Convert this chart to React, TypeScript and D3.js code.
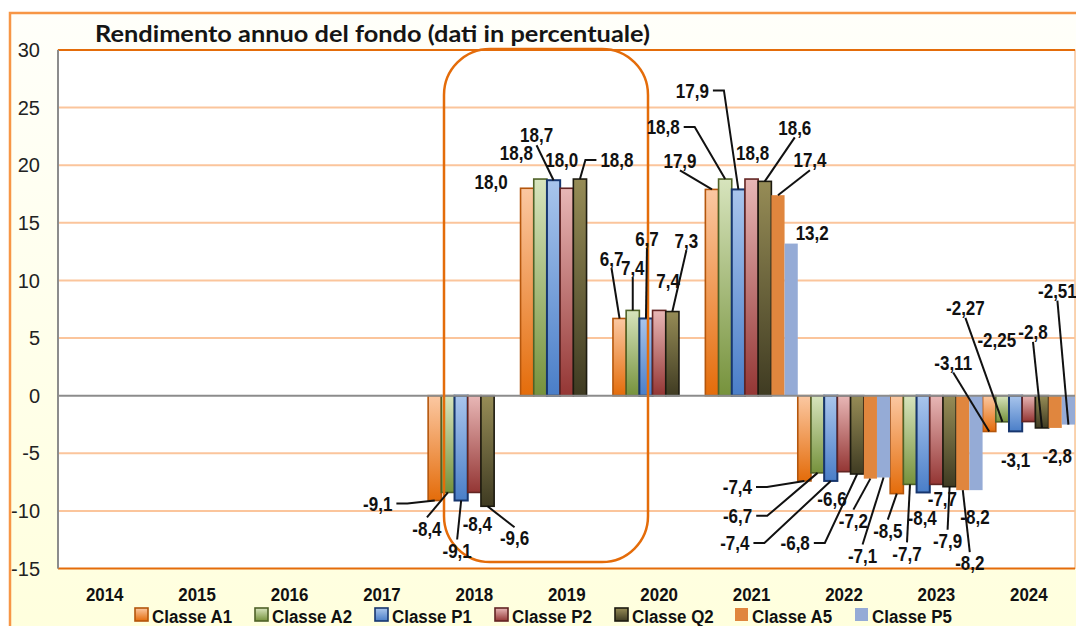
import React from 'react';
import * as d3 from 'd3';

// ---- data ----
const years = ['2014', '2015', '2016', '2017', '2018', '2019', '2020', '2021', '2022', '2023', '2024'];
const seriesNames = ['Classe A1', 'Classe A2', 'Classe P1', 'Classe P2', 'Classe Q2', 'Classe A5', 'Classe P5'];

const classeA1 = [null, null, null, null, -9.1, 18.0, 6.7, 17.9, -7.4, -8.5, -3.11];
const classeA2 = [null, null, null, null, -8.4, 18.8, 7.4, 18.8, -6.7, -7.7, -2.27];
const classeP1 = [null, null, null, null, -9.1, 18.7, 6.7, 17.9, -7.4, -8.4, -3.1];
const classeP2 = [null, null, null, null, -8.4, 18.0, 7.4, 18.8, -6.6, -7.7, -2.25];
const classeQ2 = [null, null, null, null, -9.6, 18.8, 7.3, 18.6, -6.8, -7.9, -2.8];
const classeA5 = [null, null, null, null, null, null, null, 17.4, -7.2, -8.2, -2.8];
const classeP5 = [null, null, null, null, null, null, null, 13.2, -7.1, -8.2, -2.51];

const yTicks = [-15, -10, -5, 0, 5, 10, 15, 20, 25, 30];

const allSeries: (number | null)[][] = [classeA1, classeA2, classeP1, classeP2, classeQ2, classeA5, classeP5];

// ---- styling ----
const W = 1076;
const H = 626;
const plot = { left: 58, right: 1075, top: 50, bottom: 568.5 };

const styles = [
  { top: '#FBC8A2', bottom: '#E46C0A', stroke: '#B4560C' },
  { top: '#D7E4BD', bottom: '#76923C', stroke: '#4F6228' },
  { top: '#A9C5EC', bottom: '#4A7EC8', stroke: '#17366E' },
  { top: '#E8B7B6', bottom: '#943634', stroke: '#632523' },
  { top: '#968C56', bottom: '#3F3B22', stroke: '#1D1B10' },
  { top: '#E0863E', bottom: '#E0863E', stroke: 'none' },
  { top: '#95ABD6', bottom: '#95ABD6', stroke: 'none' },
];

// label placement: offset from bar end (px) and leader kind ('h' side elbow, 'v' top/bottom, '' none)
const labelLayout: Record<string, [number, number, string][]> = {
  '2018': [[-57, 3, 'h'], [-21, 36, 'v'], [-4, 50, 'v'], [3, 31, ''], [27, 32, 'v']],
  '2019': [[-36, -6, ''], [-24, -26, ''], [-17, -45, 'v'], [-5, -28, ''], [37, -19, 'h']],
  '2020': [[-8, -60, 'v'], [0, -43, 'v'], [1, -80, 'v'], [9, -30, ''], [14, -71, 'v']],
  '2021': [[-32, -29, 'v'], [-62, -52, 'h'], [-46, -99, 'h'], [1, -26, ''], [30, -54, 'v'], [32, -35, 'v'], [21, -11, '']],
  '2022': [[-67, 6, 'h'], [-80, 43, 'h'], [-96, 62, 'h'], [-12, 27, ''], [-62, 69, 'h'], [-17, 42, 'v'], [-21, 78, 'v']],
  '2023': [[-9, 37, 'v'], [-3, 69, 'v'], [-1, 25, ''], [6, 14, ''], [-2, 54, 'v'], [7, 73, 'v'], [-1, 27, '']],
  '2024': [[-36, -69, 'v'], [-37, -114, 'v'], [0, 28, ''], [-32, -82, ''], [-9, -96, 'v'], [2, 28, ''], [-11, -134, 'v']],
};

const fmt = (v: number) => {
  const d = Math.abs(v * 10 - Math.round(v * 10)) < 1e-6 ? 1 : 2;
  return v.toFixed(d).replace('.', ',');
};

// bold text is drawn a bit condensed, like the original
const BOLD_SIZE = 20;
const SQUEEZE = 0.85;
const textWidth = (s: string) =>
  s.split('').reduce((a, c) => a + (c === '-' ? 0.333 : c === ',' ? 0.278 : 0.556), 0) * BOLD_SIZE * SQUEEZE;

const font = '"Liberation Sans", Arial, sans-serif';

function BoldText({ x, y, anchor = 'middle', children, dy, size = BOLD_SIZE, sq = SQUEEZE }: any) {
  return (
    <text transform={`translate(${x},${y}) scale(${sq},1)`} dy={dy} textAnchor={anchor}
      fontFamily={font} fontWeight="bold" fontSize={size} fill="#111">{children}</text>
  );
}

export default function App() {
  const x0 = d3.scaleBand<string>().domain(years).range([plot.left + 0.5, plot.right]).paddingInner(0).paddingOuter(0);
  const x1 = d3.scaleBand<string>().domain(seriesNames).range([0, x0.bandwidth()]).padding(0);
  const y = d3.scaleLinear().domain([-15, 30]).range([plot.bottom, plot.top]);

  const bars: JSX.Element[] = [];
  const leaders: JSX.Element[] = [];
  const labels: JSX.Element[] = [];

  allSeries.forEach((vals, si) => {
    vals.forEach((v, yi) => {
      if (v === null) return;
      const yr = years[yi];
      const bx = (x0(yr) as number) + (x1(seriesNames[si]) as number);
      const bw = x1.bandwidth();
      const yTop = y(Math.max(0, v));
      const yBot = y(Math.min(0, v));
      const st = styles[si];
      bars.push(
        <rect key={`b${si}-${yi}`} x={bx} y={yTop} width={bw} height={yBot - yTop}
          fill={`url(#grad${si})`} stroke={st.stroke} strokeWidth={si === 2 ? 2 : 1.6} />
      );
      const lay = labelLayout[yr] && labelLayout[yr][si];
      if (!lay) return;
      const ax = bx + bw / 2;
      const ay = v >= 0 ? yTop : yBot;
      const lx = ax + lay[0];
      const ly = ay + lay[1];
      const txt = fmt(v);
      const hw = textWidth(txt) / 2;
      labels.push(<BoldText key={`t${si}-${yi}`} x={lx} y={ly} dy="0.36em">{txt}</BoldText>);
      if (lay[2] === 'v') {
        const sy = ay > ly ? ly + 10 : ly - 11;
        leaders.push(<line key={`l${si}-${yi}`} x1={lx} y1={sy} x2={ax} y2={ay} stroke="#111" strokeWidth={2} />);
      } else if (lay[2] === 'h') {
        const s = ax > lx ? 1 : -1;
        const sx = lx + s * (hw + 4);
        const ex = sx + s * 11;
        leaders.push(
          <polyline key={`l${si}-${yi}`} points={`${sx},${ly} ${ex},${ly} ${ax},${ay}`}
            fill="none" stroke="#111" strokeWidth={2} />
        );
      }
    });
  });

  const legendStep = 120;

  return (
    <div style={{ position: 'fixed', left: 0, top: 0 }}>
      <svg width={W} height={H} style={{ display: 'block' }}>
        <defs>
          <linearGradient id="bgGrad" x1="0" y1="0" x2="0" y2="1">
            <stop offset="0" stopColor="#FFFFFA" />
            <stop offset="1" stopColor="#FFFFDC" />
          </linearGradient>
          {styles.map((st, i) => (
            <linearGradient key={i} id={`grad${i}`} x1="0" y1="0" x2="0" y2="1">
              <stop offset="0" stopColor={st.top} />
              <stop offset="1" stopColor={st.bottom} />
            </linearGradient>
          ))}
        </defs>
        <rect x={0} y={0} width={W} height={H} fill="#fff" />
        <rect x={10} y={13} width={W + 20} height={H + 20} fill="url(#bgGrad)" stroke="#F79646" strokeWidth={2.5} />

        <text x={95} y={42} fontFamily="Lato, 'Open Sans', sans-serif" fontWeight="bold" fontSize={23}
          fill="#151515" textLength={555} lengthAdjust="spacingAndGlyphs">
          Rendimento annuo del fondo (dati in percentuale)
        </text>

        {/* plot area */}
        <rect x={plot.left} y={plot.top} width={plot.right - plot.left} height={plot.bottom - plot.top}
          fill="#FFFFFF" stroke="#F4A66A" strokeWidth={1} />
        {yTicks.filter(t => t !== 0 && t !== 30 && t !== -15).map(t => (
          <line key={`g${t}`} x1={plot.left} x2={plot.right} y1={y(t)} y2={y(t)} stroke="#FBC59C" strokeWidth={2} />
        ))}

        {bars}

        <line x1={plot.left} x2={plot.right} y1={y(0)} y2={y(0)} stroke="#8C8C8C" strokeWidth={2} />
        <line x1={plot.left} x2={plot.right} y1={plot.top} y2={plot.top} stroke="#E46C0A" strokeWidth={2} />
        <line x1={plot.left} x2={plot.right} y1={plot.bottom} y2={plot.bottom} stroke="#E46C0A" strokeWidth={2} />
        <line x1={plot.left} x2={plot.left} y1={plot.top} y2={plot.bottom} stroke="#8C8C8C" strokeWidth={2} />

        {yTicks.map(t => (
          <text key={`yt${t}`} x={40} y={y(t)} dy="0.36em" textAnchor="end"
            fontFamily={font} fontSize={20} fill="#222">{t}</text>
        ))}

        {years.map(yr => (
          <BoldText key={`xt${yr}`} x={(x0(yr) as number) + x0.bandwidth() / 2} y={601} size={19} sq={0.89}>{yr}</BoldText>
        ))}

        {/* highlight box */}
        <rect x={444} y={49} width={204} height={513} rx={46} ry={46}
          fill="none" stroke="#E46C0A" strokeWidth={2.5} />

        {leaders}
        {labels}

        {seriesNames.map((name, i) => {
          const lx = 135 + i * legendStep;
          return (
            <g key={name}>
              <rect x={lx} y={608} width={13} height={13} fill={`url(#grad${i})`}
                stroke={styles[i].stroke} strokeWidth={1.6} />
              <BoldText x={lx + 17} y={622.5} anchor="start" size={19} sq={0.89}>{name}</BoldText>
            </g>
          );
        })}
      </svg>
    </div>
  );
}
